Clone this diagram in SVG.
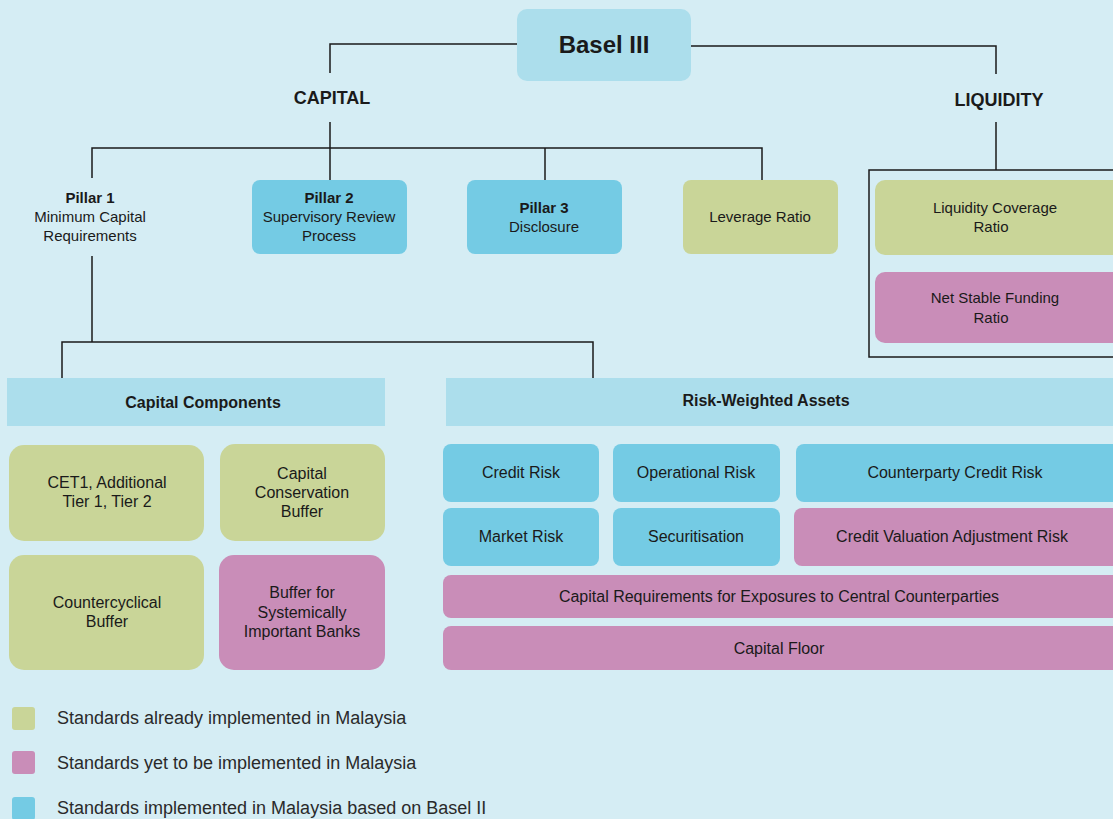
<svg xmlns="http://www.w3.org/2000/svg" width="1113" height="819" viewBox="0 0 1113 819">
  <style>
    text { font-family: "Liberation Sans", Arial, sans-serif; fill: #1a1a1a; text-anchor: middle; }
    .t15 { font-size: 15px; }
    .t16 { font-size: 16px; }
    .b { font-weight: bold; }
    .leg { font-size: 18px; text-anchor: start; fill: #2a2a2a; }
    .blue { fill: #74cbe4; }
    .green { fill: #c9d598; }
    .pink { fill: #c98db8; }
    .head { fill: #acdeec; }
    .wire { fill: none; stroke: #1a1a1a; stroke-width: 1.5; }
  </style>

  <rect x="0" y="0" width="1113" height="819" fill="#d5edf4"/>

  <!-- connectors -->
  <g id="connectors" class="wire">
    <polyline points="517,44 330,44 330,73"/>
    <line x1="330" y1="122" x2="330" y2="180"/>
    <polyline points="92,178 92,148 762,148 762,180"/>
    <line x1="545" y1="148" x2="545" y2="180"/>
    <polyline points="691,46 996,46 996,74"/>
    <line x1="996" y1="122" x2="996" y2="170"/>
    <polyline points="92,256 92,342"/>
    <polyline points="62,378 62,342 593,342 593,378"/>
  </g>

  <!-- top node -->
  <g id="basel3">
    <rect x="517" y="9" width="174" height="72" rx="10" class="head"/>
    <text x="604" y="53" class="b" style="font-size:24px">Basel III</text>
  </g>

  <g id="capital">
    <text x="332" y="104" class="b" style="font-size:18px">CAPITAL</text>
  </g>
  <g id="liquidity">
    <text x="999" y="106" class="b" style="font-size:18px">LIQUIDITY</text>
  </g>

  <!-- pillars -->
  <g id="pillar1">
    <text x="90" y="203" class="t15 b">Pillar 1</text>
    <text x="90" y="222" class="t15">Minimum Capital</text>
    <text x="90" y="241" class="t15">Requirements</text>
  </g>
  <g id="pillar2">
    <rect x="252" y="180" width="155" height="74" rx="8" class="blue"/>
    <text x="329" y="203" class="t15 b">Pillar 2</text>
    <text x="329" y="222" class="t15">Supervisory Review</text>
    <text x="329" y="241" class="t15">Process</text>
  </g>
  <g id="pillar3">
    <rect x="467" y="180" width="155" height="74" rx="8" class="blue"/>
    <text x="544" y="213" class="t15 b">Pillar 3</text>
    <text x="544" y="232" class="t15">Disclosure</text>
  </g>
  <g id="leverage">
    <rect x="683" y="180" width="155" height="74" rx="8" class="green"/>
    <text x="760" y="222" class="t15">Leverage Ratio</text>
  </g>

  <!-- liquidity standards -->
  <g id="liquidity-frame">
    <rect x="869" y="170" width="260" height="187" class="wire"/>
  </g>
  <g id="lcr">
    <rect x="875" y="180" width="250" height="75" rx="10" class="green"/>
    <text x="995" y="213" class="t15">Liquidity Coverage</text>
    <text x="991" y="232" class="t15">Ratio</text>
  </g>
  <g id="nsfr">
    <rect x="875" y="272" width="250" height="71" rx="10" class="pink"/>
    <text x="995" y="303" class="t15">Net Stable Funding</text>
    <text x="991" y="323" class="t15">Ratio</text>
  </g>

  <!-- capital components -->
  <g id="capital-components">
    <rect x="7" y="378" width="378" height="48" class="head"/>
    <text x="203" y="408" class="t16 b">Capital Components</text>
  </g>
  <g id="cet1">
    <rect x="9" y="445" width="195" height="96" rx="15" class="green"/>
    <text x="107" y="488" class="t16">CET1, Additional</text>
    <text x="107" y="507" class="t16">Tier 1, Tier 2</text>
  </g>
  <g id="ccb">
    <rect x="220" y="444" width="165" height="97" rx="15" class="green"/>
    <text x="302" y="479" class="t16">Capital</text>
    <text x="302" y="498" class="t16">Conservation</text>
    <text x="302" y="517" class="t16">Buffer</text>
  </g>
  <g id="countercyclical">
    <rect x="9" y="555" width="195" height="115" rx="15" class="green"/>
    <text x="107" y="608" class="t16">Countercyclical</text>
    <text x="107" y="627" class="t16">Buffer</text>
  </g>
  <g id="sib">
    <rect x="219" y="555" width="166" height="115" rx="15" class="pink"/>
    <text x="302" y="598" class="t16">Buffer for</text>
    <text x="302" y="618" class="t16">Systemically</text>
    <text x="302" y="637" class="t16">Important Banks</text>
  </g>

  <!-- risk-weighted assets -->
  <g id="rwa">
    <rect x="446" y="378" width="680" height="48" class="head"/>
    <text x="766" y="406" class="t16 b">Risk-Weighted Assets</text>
  </g>
  <g id="credit-risk">
    <rect x="443" y="444" width="156" height="58" rx="8" class="blue"/>
    <text x="521" y="478" class="t16">Credit Risk</text>
  </g>
  <g id="operational-risk">
    <rect x="613" y="444" width="167" height="58" rx="8" class="blue"/>
    <text x="696" y="478" class="t16">Operational Risk</text>
  </g>
  <g id="counterparty-credit-risk">
    <rect x="796" y="444" width="330" height="58" rx="8" class="blue"/>
    <text x="955" y="478" class="t16">Counterparty Credit Risk</text>
  </g>
  <g id="market-risk">
    <rect x="443" y="508" width="156" height="58" rx="8" class="blue"/>
    <text x="521" y="542" class="t16">Market Risk</text>
  </g>
  <g id="securitisation">
    <rect x="613" y="508" width="167" height="58" rx="8" class="blue"/>
    <text x="696" y="542" class="t16">Securitisation</text>
  </g>
  <g id="cva-risk">
    <rect x="794" y="508" width="332" height="58" rx="8" class="pink"/>
    <text x="952" y="542" class="t16">Credit Valuation Adjustment Risk</text>
  </g>
  <g id="ccp-exposures">
    <rect x="443" y="575" width="683" height="43" rx="8" class="pink"/>
    <text x="779" y="602" class="t16">Capital Requirements for Exposures to Central Counterparties</text>
  </g>
  <g id="capital-floor">
    <rect x="443" y="626" width="683" height="44" rx="8" class="pink"/>
    <text x="779" y="654" class="t16">Capital Floor</text>
  </g>

  <!-- legend -->
  <g id="legend">
    <rect x="12" y="707" width="23" height="23" rx="3" class="green"/>
    <text x="57" y="724" class="leg">Standards already implemented in Malaysia</text>
    <rect x="12" y="751" width="23" height="23" rx="3" class="pink"/>
    <text x="57" y="769" class="leg">Standards yet to be implemented in Malaysia</text>
    <rect x="12" y="797" width="23" height="23" rx="3" class="blue"/>
    <text x="57" y="814" class="leg">Standards implemented in Malaysia based on Basel II</text>
  </g>
</svg>
